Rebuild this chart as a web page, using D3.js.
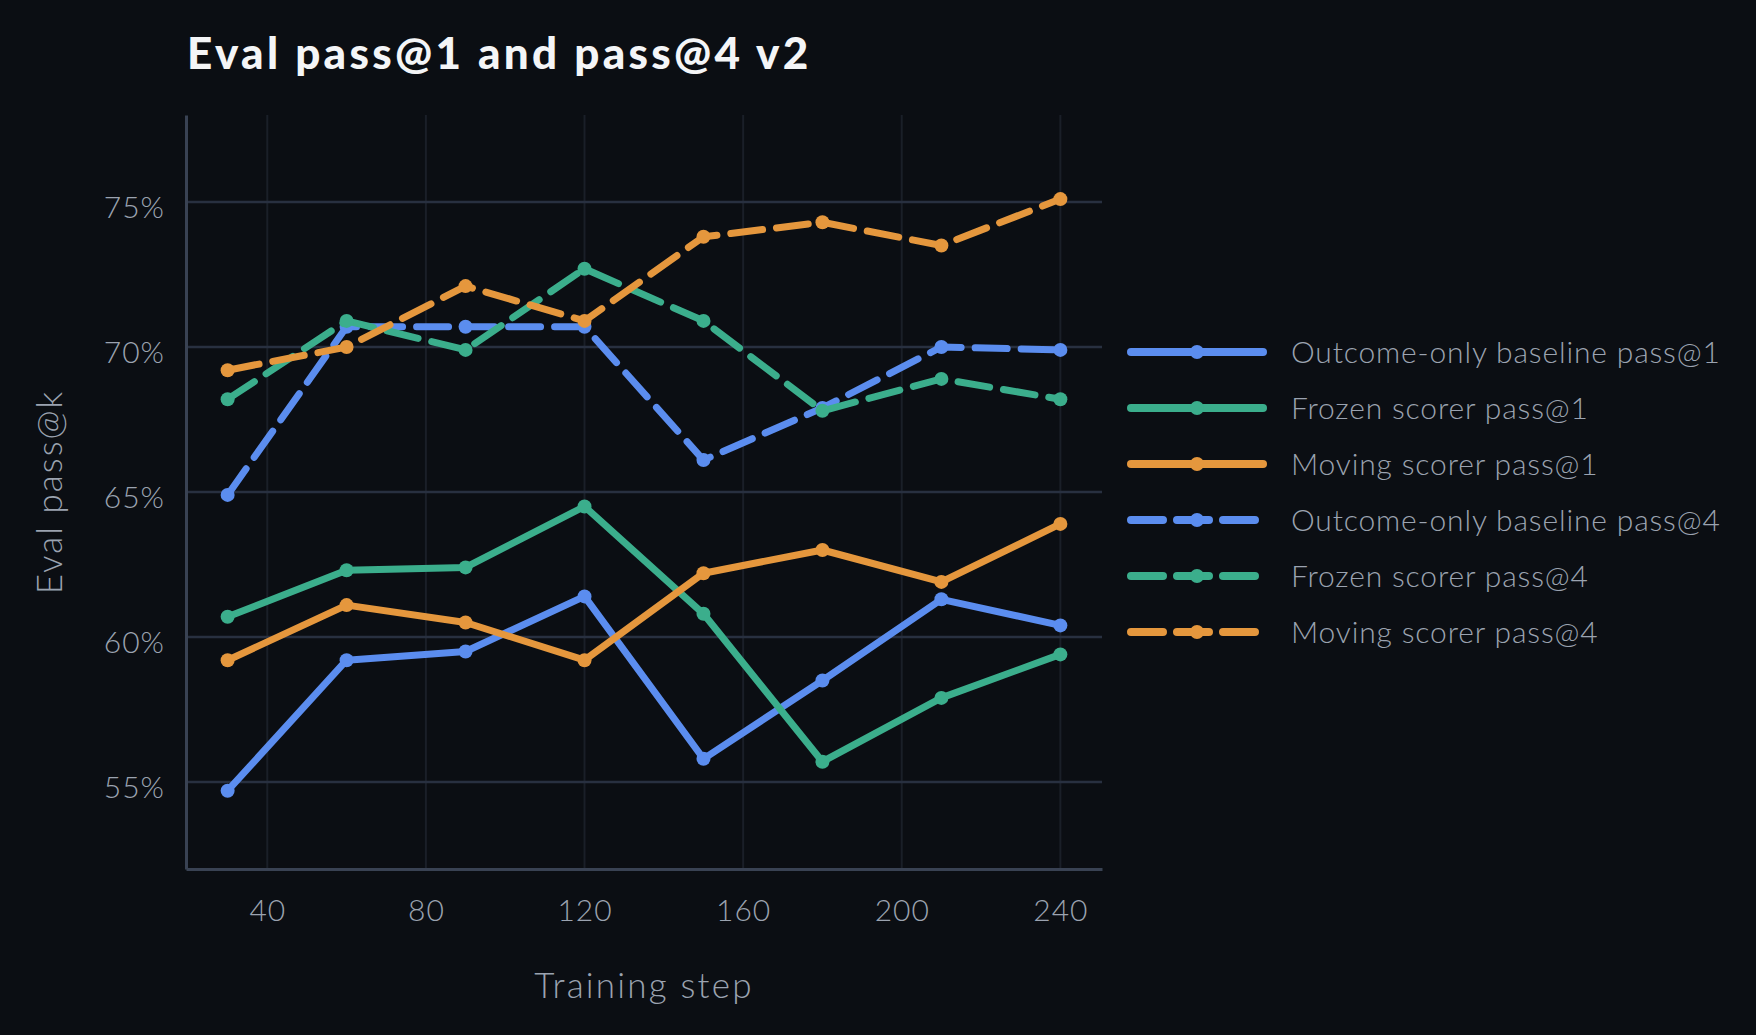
<!DOCTYPE html>
<html lang="en">
<head>
<meta charset="UTF-8">
<title>Eval pass@1 and pass@4 v2</title>
<script src="https://d3js.org/d3.v7.min.js"></script>
<style>
  html, body { margin: 0; padding: 0; background: #0b0e13; }
  svg { display: block; }
  .chart text { font-family: "Lato", "Open Sans", sans-serif; }
</style>
</head>
<body>
<div id="container"></div>
<script>
// data
var steps = [30, 60, 90, 120, 150, 180, 210, 240];
var seriesNames = [
  "Outcome-only baseline pass@1",
  "Frozen scorer pass@1",
  "Moving scorer pass@1",
  "Outcome-only baseline pass@4",
  "Frozen scorer pass@4",
  "Moving scorer pass@4"
];
var outcomeP1 = [54.7, 59.2, 59.5, 61.4, 55.8, 58.5, 61.3, 60.4];
var frozenP1  = [60.7, 62.3, 62.4, 64.5, 60.8, 55.7, 57.9, 59.4];
var movingP1  = [59.2, 61.1, 60.5, 59.2, 62.2, 63.0, 61.9, 63.9];
var outcomeP4 = [64.9, 70.7, 70.7, 70.7, 66.1, 67.9, 70.0, 69.9];
var frozenP4  = [68.2, 70.9, 69.9, 72.7, 70.9, 67.8, 68.9, 68.2];
var movingP4  = [69.2, 70.0, 72.1, 70.9, 73.8, 74.3, 73.5, 75.1];
var yTicks = [55, 60, 65, 70, 75];
var xTicks = [40, 80, 120, 160, 200, 240];

var allSeries = [outcomeP1, frozenP1, movingP1, outcomeP4, frozenP4, movingP4];
var colors = ["#5b8def", "#3bae8c", "#e5973d", "#5b8def", "#3bae8c", "#e5973d"];
var dashed = [false, false, false, true, true, true];

var width = 1756, height = 1035;
var plot = {left: 186, right: 1102, top: 115, bottom: 869};

var svg = d3.select("#container").append("svg")
    .attr("class", "chart")
    .attr("width", width).attr("height", height);

svg.append("rect").attr("width", width).attr("height", height).attr("fill", "#0b0e13");

var x = d3.scaleLinear().domain([19.5, 250.5]).range([plot.left, plot.right]);
var y = d3.scaleLinear().domain([52, 78]).range([plot.bottom, plot.top]);

// grid
svg.append("g").selectAll("line").data(xTicks).enter().append("line")
    .attr("x1", d => x(d)).attr("x2", d => x(d))
    .attr("y1", plot.top).attr("y2", plot.bottom)
    .attr("stroke", "#1a1f28").attr("stroke-width", 2);
svg.append("g").selectAll("line").data(yTicks).enter().append("line")
    .attr("x1", plot.left).attr("x2", plot.right)
    .attr("y1", d => y(d)).attr("y2", d => y(d))
    .attr("stroke", "#283040").attr("stroke-width", 2.5);

// axes
var yAxis = svg.append("g")
    .attr("transform", `translate(${plot.left},0)`)
    .call(d3.axisLeft(y).tickValues(yTicks).tickSize(0).tickSizeOuter(0).tickPadding(21).tickFormat(d => d + "%"));
var xAxis = svg.append("g")
    .attr("transform", `translate(0,${plot.bottom})`)
    .call(d3.axisBottom(x).tickValues(xTicks).tickSize(0).tickSizeOuter(0).tickPadding(31));

[xAxis, yAxis].forEach(function(a) {
  a.select(".domain").attr("stroke", "#394253").attr("stroke-width", 3);
  a.selectAll("text")
    .attr("fill", "#9ba3b0")
    .style("font-size", "30px")
    .style("font-weight", 300)
    .style("letter-spacing", "1px");
});
yAxis.selectAll("text").attr("dy", "0.5em");

// lines
var line = d3.line().x((d, i) => x(steps[i])).y(d => y(d));

allSeries.forEach(function(vals, k) {
  var g = svg.append("g");
  g.append("path")
    .datum(vals)
    .attr("d", line)
    .attr("fill", "none")
    .attr("stroke", colors[k])
    .attr("stroke-width", 7)
    .attr("stroke-linecap", "round")
    .attr("stroke-linejoin", "round")
    .attr("stroke-dasharray", dashed[k] ? "32,14" : null);
  g.selectAll("circle").data(vals).enter().append("circle")
    .attr("cx", (d, i) => x(steps[i]))
    .attr("cy", d => y(d))
    .attr("r", 7)
    .attr("fill", colors[k]);
});

// titles
svg.append("text")
    .attr("x", 187).attr("y", 69)
    .attr("fill", "#f4f5f7")
    .style("font-size", "44px").style("font-weight", 900)
    .style("letter-spacing", "3.3px")
    .text("Eval pass@1 and pass@4 v2");

svg.append("text")
    .attr("x", (plot.left + plot.right) / 2).attr("y", 998)
    .attr("text-anchor", "middle")
    .attr("fill", "#9ba3b0")
    .style("font-size", "35px").style("font-weight", 300)
    .style("letter-spacing", "2.2px")
    .text("Training step");

svg.append("text")
    .attr("transform", `translate(62,${(plot.top + plot.bottom) / 2}) rotate(-90)`)
    .attr("text-anchor", "middle")
    .attr("fill", "#9ba3b0")
    .style("font-size", "35px").style("font-weight", 300)
    .style("letter-spacing", "2px")
    .text("Eval pass@k");

// legend
var legend = svg.append("g").attr("transform", "translate(1127,352)");
var rows = legend.selectAll("g").data(seriesNames).enter().append("g")
    .attr("transform", (d, i) => `translate(0,${i * 56})`);
rows.append("line")
    .attr("x1", 4).attr("x2", 136)
    .attr("stroke", (d, i) => colors[i])
    .attr("stroke-width", 8)
    .attr("stroke-linecap", "round")
    .attr("stroke-dasharray", (d, i) => dashed[i] ? "32,14" : null);
rows.append("circle")
    .attr("cx", 70).attr("r", 7)
    .attr("fill", (d, i) => colors[i]);
rows.append("text")
    .attr("x", 164).attr("y", 10.5)
    .attr("fill", "#9ba3b0")
    .style("font-size", "30px").style("font-weight", 300)
    .style("letter-spacing", "0.85px")
    .text(d => d);
</script>
</body>
</html>
